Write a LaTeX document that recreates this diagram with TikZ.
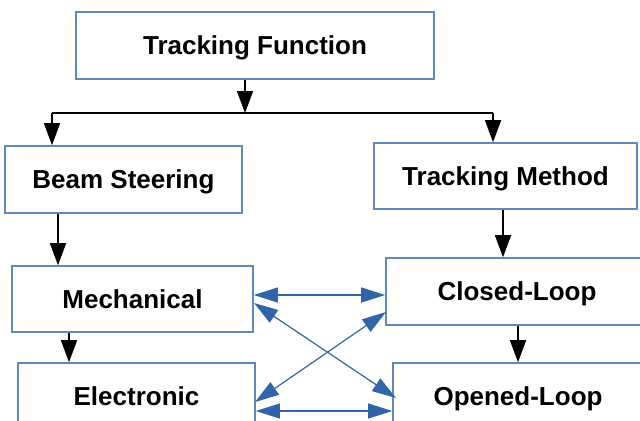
\documentclass[tikz,border=0pt]{standalone}
\usepackage{fontspec}
\setmainfont{Liberation Sans}
\usetikzlibrary{arrows.meta}
\definecolor{boxblue}{RGB}{95,135,195}
\definecolor{arrblue}{RGB}{50,100,170}
\begin{document}
\begin{tikzpicture}[x=0.5pt,y=-0.5pt,
  box/.style={draw=boxblue,line width=0.8pt,fill=white,inner sep=0pt,
    text height=9.4pt,text depth=0pt,
    font=\fontsize{13}{15}\selectfont\bfseries},
  blk/.style={draw=black,line width=0.7pt,-{Triangle[length=11pt,width=8pt]}},
  blu/.style={draw=arrblue,line width=0.6pt,{Triangle[length=12pt,width=7.5pt]}-{Triangle[length=12pt,width=7.5pt]}}]
\useasboundingbox (0,0) rectangle (640,420);
\node[box,minimum width=179pt,minimum height=33.5pt] (tf) at (255,45.5) {Tracking Function};
\node[box,minimum width=118.5pt,minimum height=33.5pt] (bs) at (123.5,179.5) {Beam Steering};
\node[box,minimum width=131.5pt,minimum height=33pt] (tm) at (505.5,176) {Tracking Method};
\node[box,minimum width=120.5pt,minimum height=33pt] (me) at (132.5,299) {Mechanical};
\node[box,minimum width=131pt,minimum height=33.5pt] (cl) at (517,291.5) {Closed-Loop};
\node[box,minimum width=118.5pt,minimum height=33pt] (el) at (136.5,396) {Electronic};
\node[box,minimum width=125pt,minimum height=33pt] (ol) at (518,396) {Opened-Loop};
\coordinate (j) at (245,113);
\coordinate (jl) at (52,113);
\coordinate (jr) at (493,113);
\draw[blk] (tf.south -| j) -- (j);
\draw[black,line width=0.7pt] (jl) -- (jr);
\draw[blk] (jl) -- (jl |- bs.north);
\draw[blk] (jr) -- (jr |- tm.north);
\draw[blk] (bs.south -| 58,0) -- (me.north -| 58,0);
\draw[blk] (me.south -| 69,0) -- (el.north -| 69,0);
\draw[blk] (tm.south -| 503,0) -- (cl.north -| 503,0);
\draw[blk] (cl.south -| 518,0) -- (ol.north -| 518,0);
\draw[blu] (me.east |- 0,295) -- (cl.west |- 0,295);
\draw[blu] (el.east |- 0,411) -- (ol.west |- 0,411);
\draw[blu] (254,303) -- (396,398);
\draw[blu] (386,312) -- (255,402);
\end{tikzpicture}
\end{document}
